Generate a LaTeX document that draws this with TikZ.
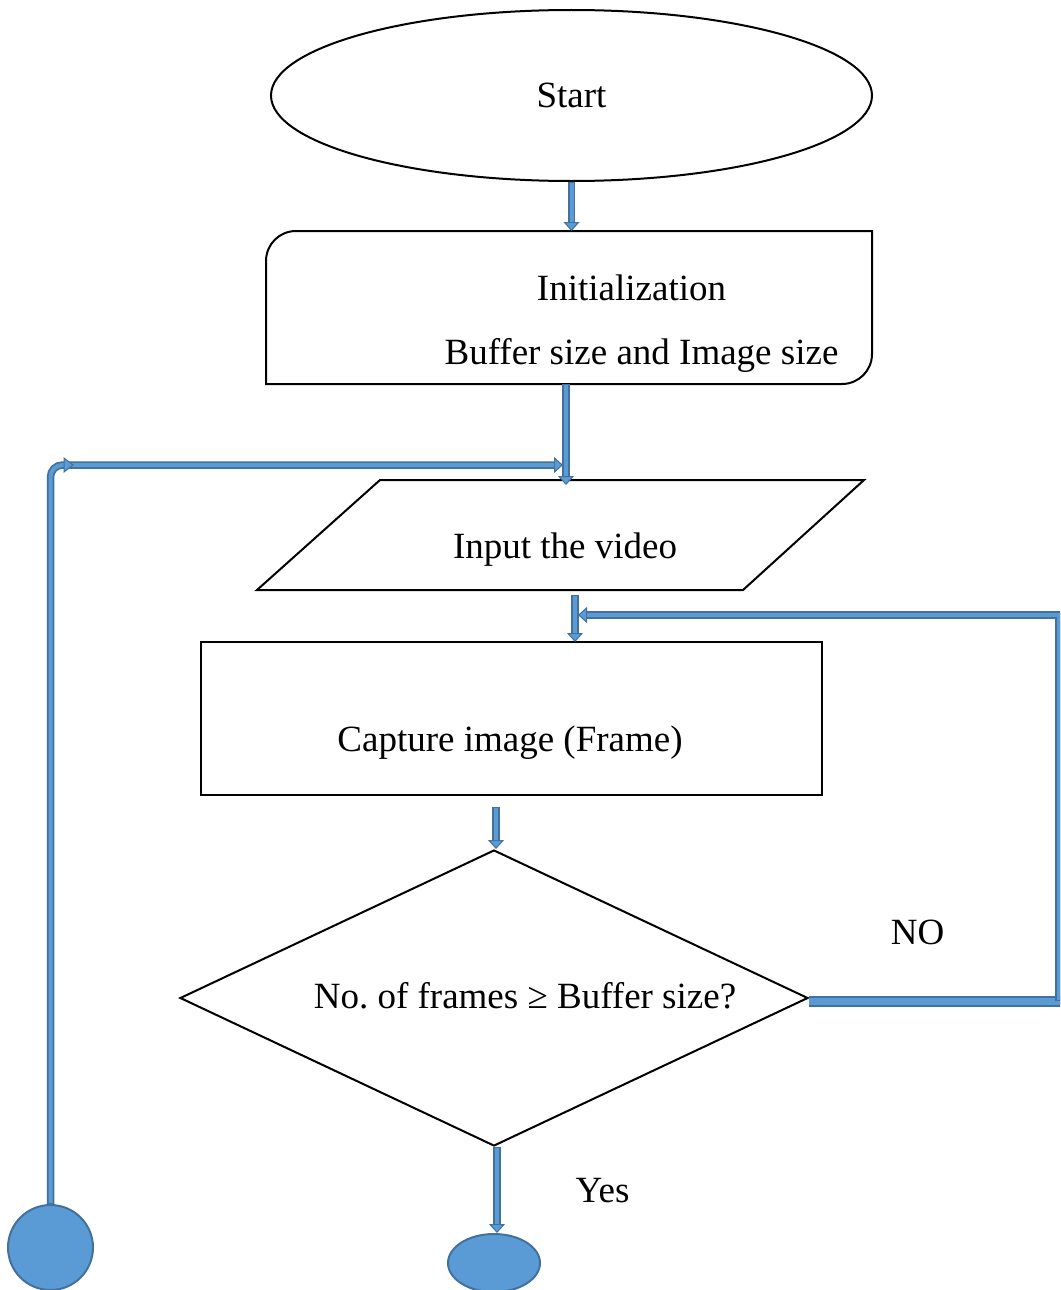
\documentclass[tikz,border=0pt]{standalone}
\usepackage{fontspec}
\setmainfont{Liberation Serif}
\usetikzlibrary{shapes.geometric,arrows.meta,calc}
\definecolor{bfill}{HTML}{5B9BD5}
\definecolor{bedge}{HTML}{41719C}
\frenchspacing
\begin{document}
\begin{tikzpicture}[x=1pt,y=-1pt,
  every node/.style={font=\fontsize{37}{44}\selectfont},
  outline/.style={draw=black, line width=2pt},
  txt/.style={anchor=base, inner sep=0pt},
  pipe/.style={draw=bedge, line width=7.5pt},
  core/.style={draw=bfill, line width=4pt},
  pipearrow/.style={pipe,
    -{Triangle[length=9pt,width=16pt,fill=bfill,line width=1pt]},
    postaction={core, -, shorten >=9pt, shorten <=1pt}},
  terminal/.style={ellipse, draw=bedge, line width=2pt, fill=bfill, inner sep=0pt},
]
\useasboundingbox (0,0) rectangle (1060,1290);
\clip (0,0) rectangle (1060,1290);

% Start terminal
\node[outline, ellipse, minimum width=601pt, minimum height=171pt, inner sep=0pt] (start) at (571.5,95.5) {};
\node[txt] (startT) at (571.5,107) {Start};

% Initialization box, rounded at top-left and bottom-right only
\draw[outline] (266,384) -- (266,261) .. controls (266,244.4) and (279.4,231) .. (296,231)
  -- (872,231) -- (872,354) .. controls (872,370.6) and (858.6,384) .. (842,384) -- cycle;
\coordinate (initN) at (571.5,231);
\coordinate (initS) at (566,384);
\node[txt] (initA) at (631.5,300) {Initialization};
\node[txt] (initB) at (641.5,364) {Buffer size and Image size};

% Input parallelogram
\draw[outline] (257,590) -- (380,480) -- (864,480) -- (743,590) -- cycle;
\coordinate (vidN) at (566,480);
\coordinate (vidS) at (575,590);
\node[txt] (vidT) at (565,558) {Input the video};

% Capture box
\node[outline, minimum width=621pt, minimum height=153pt, inner sep=0pt] (cap) at (511.5,718.5) {};
\node[txt] (capT) at (510,751) {Capture image (Frame)};

% Decision
\node[outline, diamond, minimum width=628pt, minimum height=296pt, inner sep=0pt] (dec) at (494,998) {};
\node[txt] (decT) at (525,1008) {No. of frames ≥ Buffer size?};
\node[txt] (noT) at (917.5,944) {NO};
\node[txt] (yesT) at (602.5,1202) {Yes};

% Connector circles
\node[terminal, minimum width=85pt, minimum height=85pt] (loopc) at (50.5,1247.5) {};
\node[terminal, minimum width=92pt, minimum height=58pt] (endc) at (494,1263) {};

% Flow arrows
\draw[pipearrow] (start.south) -- (initN);
\draw[pipearrow] (initS) -- ([yshift=-5pt]vidN);

\coordinate (loopEnd) at (563,465);
\draw[pipearrow, rounded corners=12pt] (loopc.north) |- (loopEnd);
\draw[bedge, fill=bfill, line width=1pt] (64,458) -- (73,465) -- (64,472) -- cycle;

\draw[pipearrow] ([yshift=-5pt]vidS) -- ([yshift=-1pt]cap.north -| vidS);
\draw[pipearrow] ([yshift=-11pt,xshift=2pt]dec.north |- cap.south) -- ([xshift=2pt]dec.north);
\draw[pipearrow] ([xshift=3pt]dec.south) -- ([xshift=3pt]endc.north);

% NO branch back to the capture step
\coordinate (noR) at (1070,1001);
\coordinate (noB) at (1059,1001);
\coordinate (noTop) at (1059,615);
\coordinate (noEnd) at (578,615);
\draw[pipe, line width=11pt, postaction={core, line width=7pt}] ([yshift=-3pt]dec.east) -- (noR);
\draw[pipearrow] (noB) -- (noTop) -- (noEnd);
\end{tikzpicture}
\end{document}
